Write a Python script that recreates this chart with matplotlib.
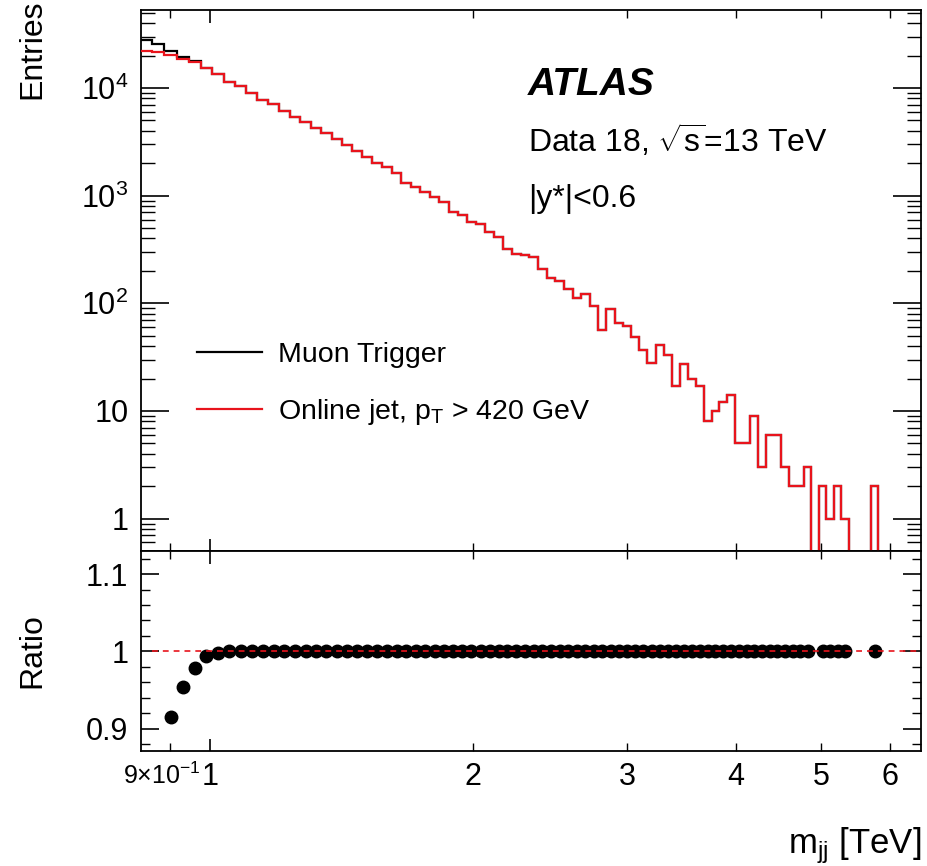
import numpy as np
import matplotlib
matplotlib.use("Agg")
import matplotlib.pyplot as plt
import matplotlib.transforms as mtransforms
from matplotlib.ticker import FixedLocator, FixedFormatter, LogLocator, MultipleLocator, NullFormatter

plt.rcParams['font.family'] = ['Liberation Sans', 'DejaVu Sans']
plt.rcParams['mathtext.fontset'] = 'custom'
plt.rcParams['mathtext.rm'] = 'Liberation Sans'
plt.rcParams['mathtext.it'] = 'Liberation Sans:italic'
plt.rcParams['mathtext.bf'] = 'Liberation Sans:bold'

# ---------------- data ----------------
bin_edges_tev = [0.830, 0.858, 0.887, 0.916, 0.946, 0.976, 1.006, 1.037, 1.068, 1.100,
                 1.133, 1.166, 1.200, 1.234, 1.269, 1.305, 1.341, 1.378, 1.416, 1.454,
                 1.493, 1.533, 1.573, 1.614, 1.656, 1.698, 1.741, 1.785, 1.830, 1.875,
                 1.921, 1.968, 2.016, 2.065, 2.114, 2.164, 2.215, 2.267, 2.320, 2.374,
                 2.429, 2.485, 2.542, 2.600, 2.659, 2.719, 2.780, 2.842, 2.905, 2.969,
                 3.034, 3.100, 3.167, 3.235, 3.305, 3.376, 3.448, 3.521, 3.596, 3.672,
                 3.749, 3.827, 3.907, 3.988, 4.070, 4.154, 4.239, 4.326, 4.414, 4.504,
                 4.595, 4.688, 4.782, 4.878, 4.975, 5.074, 5.175, 5.277, 5.381, 5.487,
                 5.595, 5.705, 5.817, 5.931, 6.047, 6.165, 6.285, 6.407, 6.531]

online_jet_counts = [22000, 21800, 20180, 18640, 17310, 15220, 13490, 11450, 10440, 9050,
                     7735, 7103, 6160, 5418, 4870, 4223, 3796, 3363, 2950, 2600,
                     2280, 2000, 1860, 1610, 1320, 1200, 1070, 965, 870, 711,
                     655, 574, 547, 462, 410, 320, 290, 278, 270, 208,
                     171, 160, 135, 113, 123, 95, 56, 88, 65, 61,
                     49, 37, 28, 41, 33, 17, 27, 20, 17, 8,
                     10, 12, 14, 5, 5, 9, 3, 6, 6, 3,
                     2, 2, 3, 0, 2, 1, 2, 1, 0, 0,
                     0, 2, 0, 0, 0, 0, 0, 0]

muon_trigger_counts = [27900, 25430, 22050, 19540, 17700, 15320, 13520, 11450, 10440, 9050,
                       7735, 7103, 6160, 5418, 4870, 4223, 3796, 3363, 2950, 2600,
                       2280, 2000, 1860, 1610, 1320, 1200, 1070, 965, 870, 711,
                       655, 574, 547, 462, 410, 320, 290, 278, 270, 208,
                       171, 160, 135, 113, 123, 95, 56, 88, 65, 61,
                       49, 37, 28, 41, 33, 17, 27, 20, 17, 8,
                       10, 12, 14, 5, 5, 9, 3, 6, 6, 3,
                       2, 2, 3, 0, 2, 1, 2, 1, 0, 0,
                       0, 2, 0, 0, 0, 0, 0, 0]

x_tick_major = [1]
x_tick_major_labels = ["1"]
x_tick_minor = [0.9, 2, 3, 4, 5, 6]
x_tick_minor_labels = [r"9×10$^{-1}$", "2", "3", "4", "5", "6"]
y_tick_values = [1, 10, 100, 1000, 10000]
y_tick_labels = ["1", "10", r"10$^{2}$", r"10$^{3}$", r"10$^{4}$"]
ratio_tick_values = [0.9, 1.0, 1.1]
ratio_tick_labels = ["0.9", "1", "1.1"]

legend_labels = ["Muon Trigger", r"Online jet, p$_\mathrm{T}$ > 420 GeV"]

# ---------------- figure ----------------
W, H = 928, 866
fig = plt.figure(figsize=(W / 100, H / 100), dpi=100)
left, right = 141 / W, 921 / W
ax = fig.add_axes([left, 1 - 551 / H, right - left, (551 - 10) / H])
rax = fig.add_axes([left, 1 - 751 / H, right - left, 200 / H])

edges = np.array(bin_edges_tev)
muon = np.array(muon_trigger_counts, dtype=float)
jet = np.array(online_jet_counts, dtype=float)

red = '#e8141c'
TICK_FS = 22

for a in (ax, rax):
    a.set_xscale('log')
    for s in a.spines.values():
        s.set_linewidth(1.3)

ax.set_yscale('log')
ax.stairs(muon, edges, baseline=None, color='black', lw=1.6, label=legend_labels[0], zorder=2)
ax.stairs(jet, edges, baseline=None, color=red, lw=1.6, label=legend_labels[1], zorder=3)

xlim = (0.834, 6.51)
ax.set_xlim(*xlim)
ax.set_ylim(0.5, 5.3e4)

# ratio
centers = 0.5 * (edges[:-1] + edges[1:])
mask = (muon > 0) & (jet > 0)
ratio = np.divide(jet, muon, out=np.zeros_like(jet), where=muon > 0)
rax.plot(centers[mask], ratio[mask], 'o', color='black', ms=9, zorder=3)
rax.plot([edges[1], edges[-1]], [1, 1], color=red, lw=1.2, ls=(0, (3.5, 3)), zorder=4)
rax.set_xlim(*xlim)
rax.set_ylim(0.871, 1.13)

# ticks main
ax.yaxis.set_major_locator(FixedLocator(y_tick_values))
ax.yaxis.set_major_formatter(FixedFormatter(y_tick_labels))
ax.yaxis.set_minor_locator(LogLocator(base=10, subs=np.arange(2, 10), numticks=20))
ax.yaxis.set_minor_formatter(NullFormatter())
for a in (ax, rax):
    a.xaxis.set_major_locator(FixedLocator(x_tick_major))
    a.xaxis.set_minor_locator(FixedLocator(x_tick_minor))
ax.xaxis.set_major_formatter(NullFormatter())
ax.xaxis.set_minor_formatter(NullFormatter())
rax.xaxis.set_major_formatter(FixedFormatter(x_tick_major_labels))
rax.xaxis.set_minor_formatter(FixedFormatter(x_tick_minor_labels))

ax.tick_params(which='both', direction='in', top=True, right=True, labelsize=TICK_FS, pad=9)
ax.tick_params(axis='y', which='major', length=20, width=1.2)
ax.tick_params(axis='y', which='minor', length=10, width=1.0)
ax.tick_params(axis='x', which='major', length=9, width=1.2)
ax.tick_params(axis='x', which='minor', length=6, width=1.0)

rax.yaxis.set_major_locator(FixedLocator(ratio_tick_values))
rax.yaxis.set_major_formatter(FixedFormatter(ratio_tick_labels))
rax.yaxis.set_minor_locator(MultipleLocator(0.02))
rax.tick_params(which='both', direction='in', top=True, right=True, labelsize=TICK_FS)
rax.tick_params(axis='y', which='major', length=13, width=1.2, pad=9)
rax.tick_params(axis='y', which='minor', length=6.5, width=1.0)
rax.tick_params(axis='x', which='major', length=9, width=1.2, pad=8)
rax.tick_params(axis='x', which='minor', length=6, width=1.0, pad=8)

# labels
ax.set_ylabel("Entries", fontsize=23, loc='top')
ax.yaxis.set_label_coords(-0.12, 1.02)
rax.set_ylabel("Ratio", fontsize=23)
rax.yaxis.set_label_coords(-0.12, 0.5)
rax.set_xlabel(r"m$_\mathrm{jj}$ [TeV]", fontsize=25, loc='right')
rax.xaxis.set_label_coords(1.0, -0.37)

# annotations
ax.text(0.496, 0.842, "ATLAS", transform=ax.transAxes, fontsize=28,
        fontweight='bold', fontstyle='italic', va='baseline')
ax.text(0.496, 0.7375, r"Data 18, $\sqrt{\mathrm{s}}$=13 TeV", transform=ax.transAxes,
        fontsize=23, va='baseline')
ax.text(0.496, 0.636, "|y*|<0.6", transform=ax.transAxes, fontsize=23, va='baseline')

ax.legend(loc='center left', bbox_to_anchor=(0.0718, 0.308), frameon=False,
          fontsize=20.5, handlelength=2.3, handletextpad=0.55, borderpad=0,
          borderaxespad=0, labelspacing=1.02)

# the crowded 0.9 label: slightly smaller and nudged left so it does not collide with "1"
fig.canvas.draw()
nudge = mtransforms.ScaledTranslation(-6 / 72, 0, fig.dpi_scale_trans)
for t in rax.xaxis.get_minor_ticks():
    if t.label1.get_text().startswith('9'):
        t.label1.set_fontsize(18)
        t.label1.set_transform(t.label1.get_transform() + nudge)

fig.savefig("out.png", dpi=100)
